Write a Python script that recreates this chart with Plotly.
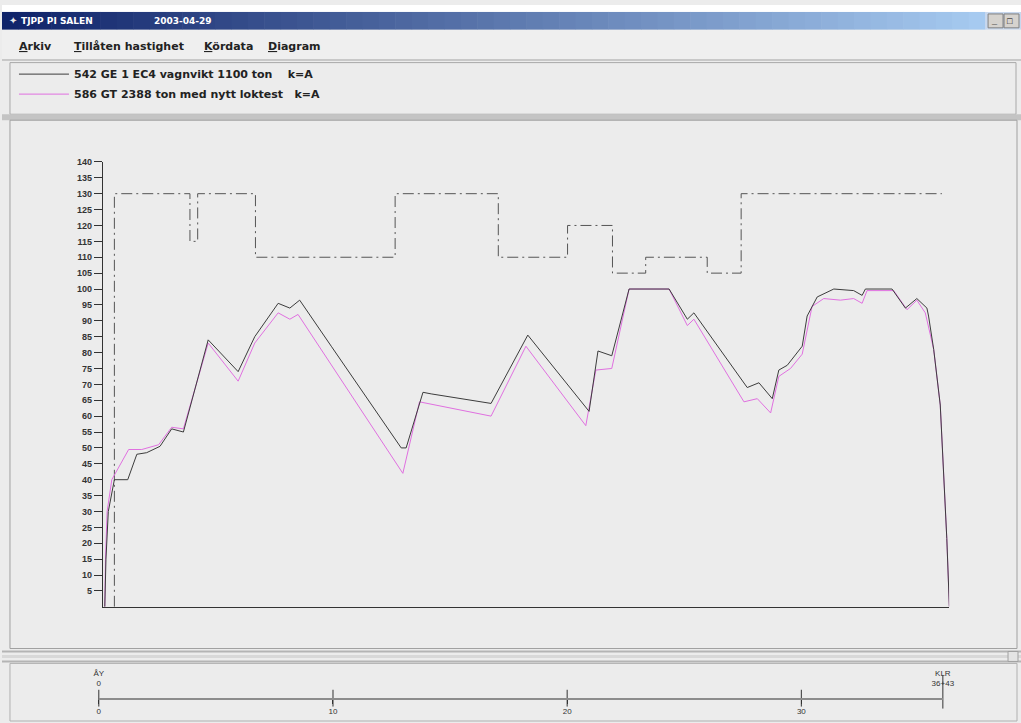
import plotly.graph_objects as go

W, H = 1021, 723

# Train run 1: position along the line [km] and speed [km/h]
run1_km = [0.0, 0.05, 0.15, 0.41, 0.98, 1.37, 1.79, 2.36, 2.86, 3.36, 4.42, 5.70, 6.41,
           7.41, 7.91, 8.33, 9.68, 12.67, 12.88, 13.60, 13.95, 16.51, 18.08, 20.70,
           21.08, 21.67, 22.41, 24.12, 24.90, 25.18, 27.46, 27.96, 28.53, 28.81, 29.17,
           29.81, 30.02, 30.45, 31.16, 32.01, 32.37, 32.51, 33.65, 34.22, 34.71, 35.14,
           35.21, 35.43, 35.71, 35.99, 36.10]
run1_kmh = [0, 15, 30, 40, 40, 48, 48.5, 50.5, 56, 55, 84, 74, 85,
            95.5, 94, 96.5, 82, 50, 50, 67.5, 67, 64, 85.5, 61.5,
            80.5, 79, 100, 100, 90.5, 92.5, 69, 70.5, 65.5, 74.5, 76,
            82, 91.5, 97.5, 100, 99.5, 98, 100, 100, 94, 97, 94,
            91.5, 81, 63.5, 21.5, 0]

# Train run 2
run2_km = [0.0, 0.03, 0.10, 0.30, 1.02, 1.58, 2.30, 2.86, 3.36, 4.42, 5.70, 6.41, 7.41,
           7.91, 8.26, 12.74, 13.45, 16.51, 18.00, 20.56, 20.99, 21.67, 22.41, 24.12,
           24.90, 25.18, 27.32, 27.89, 28.46, 28.81, 29.31, 29.81, 30.23, 30.73, 31.44,
           32.01, 32.37, 32.58, 33.72, 34.29, 34.71, 35.07, 35.43, 35.71, 35.99, 36.10]
run2_kmh = [0, 15, 30, 40, 49.5, 49.5, 51, 56.5, 56, 83, 71, 83, 92.5,
            90.5, 92, 42, 64.5, 60, 82, 57, 74.5, 75, 100, 100,
            88.5, 90.5, 64.5, 65.5, 61, 72.5, 75, 79.5, 94.5, 97, 96.5,
            97, 95.5, 99.5, 99.5, 93.5, 96.5, 92.5, 81, 63.5, 21.5, 0]

# Permitted speed: section ends [km] and the limit in each section [km/h]
limit_km = [0.41, 3.64, 3.97, 6.44, 12.41, 16.82, 19.78, 21.70, 23.12, 25.75, 27.20, 35.78]
limit_kmh = [0, 130, 115, 130, 110, 130, 110, 120, 105, 110, 105, 130]

speed_ticks = list(range(5, 145, 5))

# Position strip below the diagram
strip_ticks = [0, 10, 20, 30]
station_km = [0, 36.043]
station_names = ["ÅY<br>0", "KLR<br>36+43"]

run1_name = "542 GE 1 EC4 vagnvikt 1100 ton\u00a0\u00a0\u00a0\u00a0k=A"
run2_name = "586 GT 2388 ton med nytt loktest\u00a0\u00a0\u00a0k=A"

FONT = "Liberation Sans, Arial, sans-serif"
UIFONT = "DejaVu Sans, Verdana, sans-serif"


def px(x):
    return x / W


def py(y):
    return 1 - y / H


fig = go.Figure()

fig.add_trace(go.Scatter(
    x=limit_km, y=limit_kmh, mode="lines", line_shape="vh",
    line=dict(color="#555555", width=1, dash="11px,4px,2px,4px"),
    showlegend=False, hoverinfo="skip"))
fig.add_trace(go.Scatter(
    x=run2_km, y=run2_kmh, mode="lines", name=run2_name,
    legendgroup="b", legendrank=2,
    line=dict(color="#e070e0", width=1)))
fig.add_trace(go.Scatter(
    x=run1_km, y=run1_kmh, mode="lines", name=run1_name,
    legendgroup="a", legendrank=1,
    line=dict(color="#3c3c3c", width=1)))

# position strip: tick marks crossing the line and station names
fig.add_trace(go.Scatter(
    x=strip_ticks, y=[0] * len(strip_ticks), xaxis="x2", yaxis="y2",
    mode="markers", marker=dict(symbol="line-ns", size=12,
                                line=dict(color="#333333", width=1)),
    cliponaxis=False, showlegend=False, hoverinfo="skip"))
fig.add_trace(go.Scatter(
    x=station_km[1:], y=[0.23], xaxis="x2", yaxis="y2",
    mode="markers", marker=dict(symbol="line-ns", size=24,
                                line=dict(color="#333333", width=1)),
    cliponaxis=False, showlegend=False, hoverinfo="skip"))
fig.add_trace(go.Scatter(
    x=station_km, y=[0.68, 0.68], xaxis="x2", yaxis="y2",
    mode="text", text=station_names, textposition="middle center",
    textfont=dict(family=FONT, size=8, color="#333333"),
    cliponaxis=False, showlegend=False, hoverinfo="skip"))

shapes = []


def rect(x0, y0, x1, y1, fill=None, line=None, lw=1):
    shapes.append(dict(type="rect", xref="paper", yref="paper",
                       x0=px(x0), x1=px(x1), y0=py(y1), y1=py(y0),
                       fillcolor=fill if fill else "rgba(0,0,0,0)",
                       line=dict(color=line if line else "rgba(0,0,0,0)", width=lw if line else 0),
                       layer="below"))


def hline(x0, x1, y, color, lw=1):
    shapes.append(dict(type="line", xref="paper", yref="paper",
                       x0=px(x0), x1=px(x1), y0=py(y), y1=py(y),
                       line=dict(color=color, width=lw), layer="below"))


# window title bar with a blue gradient
rect(0, 0, W, 7, fill="#ffffff")
n = 60
c0 = (16, 36, 106)
c1 = (166, 202, 240)
bar_w = 985 / n
for i in range(n):
    t = i / (n - 1)
    c = tuple(int(c0[k] + (c1[k] - c0[k]) * t) for k in range(3))
    rect(i * bar_w, 7, (i + 1) * bar_w + 0.6, 25, fill="rgb(%d,%d,%d)" % c)
rect(985, 7, W, 25, fill="#c8d8ee")
for bx in (988, 1004):
    rect(bx, 9, bx + 15, 23, fill="#d6d3ce", line="#808080")

# menu bar and panels
rect(0, 25, W, 55, fill="#efefef")
hline(0, W, 55.5, "#c8c8c8", 2)
rect(8, 58, 1016, 110, line="#a8a8a8")
rect(0, 110, W, 116, fill="#c4c4c4")
rect(8, 116, 1017, 648, line="#a0a0a0")
hline(0, W, 651, "#b4b4b4", 2)
hline(0, W, 656, "#d8d8d8", 3)
hline(0, W, 661, "#b4b4b4", 2)
rect(8, 663, 1017, 721, line="#b0b0b0")
rect(1008, 651, 1018, 661, fill="#e4e4e4", line="#a0a0a0")

annotations = []


def label(x, y, text, size=11, color="#222222", bold=True, anchor="left", family=UIFONT):
    annotations.append(dict(
        xref="paper", yref="paper", x=px(x), y=py(y), text=text, showarrow=False,
        xanchor=anchor, yanchor="middle",
        font=dict(family=family, size=size, color=color, weight="bold" if bold else "normal")))


label(5, 16, "\u2726", size=10, color="#e8e8e8")
label(17, 16, "TJPP PI SALEN", size=9, color="#ffffff")
label(150, 16, "2003-04-29", size=9, color="#ffffff")
label(989, 16, "_", size=9, color="#000000", family=FONT)
label(1005, 16, "\u25a1", size=9, color="#000000", family=FONT)

label(15, 42, "<u>A</u>rkiv", size=11)
label(70, 42, "<u>T</u>illåten hastighet", size=11)
label(200, 42, "<u>K</u>ördata", size=11)
label(265, 42, "<u>D</u>iagram", size=11)

fig.update_layout(
    width=W, height=H,
    margin=dict(l=0, r=0, t=0, b=0),
    paper_bgcolor="#ececec",
    plot_bgcolor="rgba(0,0,0,0)",
    shapes=shapes,
    annotations=annotations,
    showlegend=True,
    legend=dict(
        x=px(12), y=py(55), xanchor="left", yanchor="top",
        bgcolor="rgba(0,0,0,0)", traceorder="grouped",
        font=dict(family=UIFONT, size=11, color="#222222", weight="bold"),
        itemwidth=50, tracegroupgap=1),
    xaxis=dict(
        domain=[px(101), px(949)], range=[-0.085, 36.09],
        showline=True, linecolor="#333333", linewidth=1,
        showgrid=False, zeroline=False, showticklabels=False, ticks=""),
    yaxis=dict(
        domain=[py(606), py(158)], range=[0, 140],
        showline=True, linecolor="#333333", linewidth=1,
        showgrid=False, zeroline=False,
        tickvals=speed_ticks, ticks="outside", ticklen=8, tickcolor="#333333",
        tickfont=dict(family="Liberation Sans Narrow, " + FONT, size=9, color="#333333",
                      weight="bold")),
    xaxis2=dict(
        domain=[px(97), px(942.7)], range=[0, 36.043], anchor="y2",
        showline=True, linecolor="#8c8c8c", linewidth=2,
        showgrid=False, zeroline=False,
        tickvals=strip_ticks, ticks="outside", ticklen=4, tickcolor="#333333",
        tickfont=dict(family=FONT, size=8, color="#333333")),
    yaxis2=dict(
        domain=[py(698), py(670)], range=[0, 1], anchor="x2",
        visible=False),
)

fig.write_html("out.html")
